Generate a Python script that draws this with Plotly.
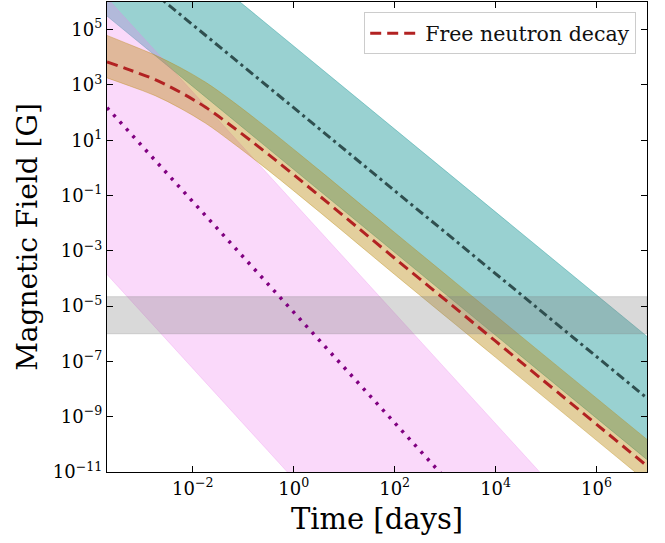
import math
import plotly.graph_objects as go

# Axis limits
t_lim = [2e-4, 1e7]          # days
B_lim = [1e-11, 1e6]         # Gauss

# Tick positions and labels
x_tick_vals = [1e-2, 1e0, 1e2, 1e4, 1e6]
x_tick_text = ["10<sup>\u22122</sup>", "10<sup>0</sup>", "10<sup>2</sup>", "10<sup>4</sup>", "10<sup>6</sup>"]
y_tick_vals = [1e5, 1e3, 1e1, 1e-1, 1e-3, 1e-5, 1e-7, 1e-9, 1e-11]
y_tick_text = ["10<sup>5</sup>", "10<sup>3</sup>", "10<sup>1</sup>", "10<sup>\u22121</sup>", "10<sup>\u22123</sup>",
               "10<sup>\u22125</sup>", "10<sup>\u22127</sup>", "10<sup>\u22129</sup>", "10<sup>\u221211</sup>"]

# Free neutron decay: central curve and its band
neutron_t = [2e-4, 5.6e-4, 1.8e-3, 5.6e-3, 1.8e-2, 5.6e-2, 0.32, 3.2, 1e2, 1e4, 1e7]
neutron_B = [6.8e3, 3.5e3, 1.55e3, 5.5e2, 1.55e2, 35, 3.0, 9.9e-2, 5.4e-4, 5.4e-7, 1.66e-11]
neutron_B_hi = [6.2e4, 2.9e4, 1.2e4, 4.3e3, 1.25e3, 2.9e2, 25, 0.83, 4.6e-3, 4.6e-6, 1.5e-10]
neutron_B_lo = [1.8e3, 9.2e2, 4.1e2, 1.45e2, 41, 9.2, 0.79, 2.6e-2, 1.4e-4, 1.4e-7, 4.4e-12]

# Power law t^-1.5 (dash-dot) and its band
pl15_t = [2e-4, 1e7]
pl15_B = [5.3e7, 4.7e-9]
pl15_B_hi = [9.0e9, 8.0e-7]
pl15_B_lo = [3.1e5, 2.8e-11]

# Power law t^-2 (dotted) and its band
pl2_t = [2e-4, 1e7]
pl2_B = [151, 6.0e-20]
pl2_B_hi = [1.4e6, 5.6e-16]
pl2_B_lo = [1.4e-4, 5.6e-26]

# Horizontal reference band
ref_band = [1e-6, 2.2e-5]

fig = go.Figure()


def add_band(t, lo, hi, fill, edge, shape="linear"):
    fig.add_trace(go.Scatter(x=t, y=lo, mode="lines", line=dict(width=0.8, color=edge, shape=shape),
                             showlegend=False, hoverinfo="skip"))
    fig.add_trace(go.Scatter(x=t, y=hi, mode="lines", line=dict(width=0.8, color=edge, shape=shape),
                             fill="tonexty", fillcolor=fill, showlegend=False, hoverinfo="skip"))


add_band(pl15_t, pl15_B_lo, pl15_B_hi, "rgba(0,139,139,0.4)", "rgba(0,139,139,0.45)")
add_band(pl2_t, pl2_B_lo, pl2_B_hi, "rgba(238,130,238,0.3)", "rgba(238,130,238,0.35)")
add_band(neutron_t, neutron_B_lo, neutron_B_hi, "rgba(184,134,11,0.4)", "rgba(184,134,11,0.45)",
         shape="spline")

fig.add_trace(go.Scatter(x=[t_lim[0], t_lim[1], t_lim[1], t_lim[0]],
                         y=[ref_band[0], ref_band[0], ref_band[1], ref_band[1]],
                         mode="lines", fill="toself", fillcolor="rgba(128,128,128,0.3)",
                         line=dict(width=0.8, color="rgba(128,128,128,0.35)"),
                         showlegend=False, hoverinfo="skip"))

fig.add_trace(go.Scatter(x=pl2_t, y=pl2_B, mode="lines",
                         line=dict(color="#800080", width=3.5, dash="3px,6.5px"),
                         showlegend=False))
fig.add_trace(go.Scatter(x=pl15_t, y=pl15_B, mode="lines",
                         line=dict(color="#2f4f4f", width=3, dash="9px,4px,3px,4px"),
                         showlegend=False))
fig.add_trace(go.Scatter(x=neutron_t, y=neutron_B, mode="lines", name="Free neutron decay",
                         line=dict(color="#b22222", width=3, dash="11px,6px", shape="spline")))

axis_common = dict(
    type="log", showgrid=False, zeroline=False, showline=True, linecolor="black", linewidth=1.3,
    mirror="ticks", ticks="inside", ticklen=6, tickwidth=1.2, tickcolor="black",
    tickfont=dict(size=18, family="DejaVu Serif", color="black"), automargin=False,
)

fig.update_xaxes(range=[math.log10(t_lim[0]), math.log10(t_lim[1])],
                 tickvals=x_tick_vals, ticktext=x_tick_text,
                 title=dict(text="Time [days]", font=dict(size=29, family="DejaVu Serif"), standoff=10),
                 **axis_common)
fig.update_yaxes(range=[math.log10(B_lim[0]), math.log10(B_lim[1])],
                 tickvals=y_tick_vals, ticktext=y_tick_text,
                 title=dict(text="Magnetic Field [G]", font=dict(size=28, family="DejaVu Serif"), standoff=6),
                 **axis_common)

fig.update_layout(
    template="none",
    width=665, height=543,
    margin=dict(l=107, r=18, t=2, b=71),
    plot_bgcolor="white", paper_bgcolor="white",
    font=dict(family="DejaVu Serif", color="black"),
    legend=dict(x=0.98, y=0.978, xanchor="right", yanchor="top", itemwidth=50,
                bgcolor="rgba(255,255,255,0.8)", bordercolor="#cccccc", borderwidth=1,
                font=dict(size=20.5, family="DejaVu Serif", color="#111111")),
)

fig.write_html("out.html")
